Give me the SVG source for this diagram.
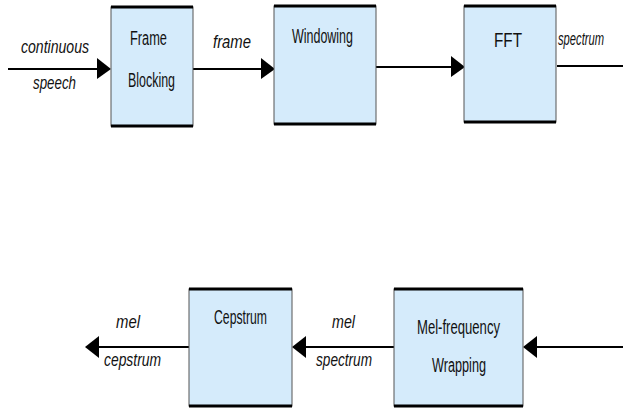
<svg xmlns="http://www.w3.org/2000/svg" width="623" height="408" viewBox="0 0 623 408">
<defs>
<style>
.box{fill:#d5ebfb;stroke:#555;stroke-width:1}
.edge{stroke:#000;stroke-width:3}
.ln{stroke:#000;stroke-width:2;fill:none}
.head{fill:#000}
text{font-family:"Liberation Sans",Arial,sans-serif;font-size:20px;fill:#111}
.lbl{font-style:italic;font-size:19px}
</style>
</defs>
<rect width="623" height="408" fill="#fff"/>
<g id="connectors">
<line class="ln" x1="8" y1="69" x2="100" y2="69"/>
<polygon class="head" points="97,58 111,69 97,79"/>
<line class="ln" x1="193" y1="69" x2="264" y2="69"/>
<polygon class="head" points="261,58 275,69 261,79"/>
<line class="ln" x1="376" y1="67" x2="454" y2="67"/>
<polygon class="head" points="451,56 465,67 451,77"/>
<line class="ln" x1="557" y1="66" x2="623" y2="66"/>
<line class="ln" x1="96" y1="347" x2="189" y2="347"/>
<polygon class="head" points="85,347 99,336 99,358"/>
<line class="ln" x1="303" y1="347" x2="394" y2="347"/>
<polygon class="head" points="292,347 306,336 306,358"/>
<line class="ln" x1="534" y1="347" x2="623" y2="347"/>
<polygon class="head" points="523,347 537,336 537,358"/>
<text class="lbl" x="21" y="53" textLength="68" lengthAdjust="spacingAndGlyphs">continuous</text>
<text class="lbl" x="33" y="89" textLength="43" lengthAdjust="spacingAndGlyphs">speech</text>
<text class="lbl" x="213" y="48" textLength="38" lengthAdjust="spacingAndGlyphs">frame</text>
<text class="lbl" x="558" y="45" textLength="46" lengthAdjust="spacingAndGlyphs">spectrum</text>
<text class="lbl" x="116" y="328" textLength="24" lengthAdjust="spacingAndGlyphs">mel</text>
<text class="lbl" x="104" y="366" textLength="57" lengthAdjust="spacingAndGlyphs">cepstrum</text>
<text class="lbl" x="332" y="328" textLength="23" lengthAdjust="spacingAndGlyphs">mel</text>
<text class="lbl" x="316" y="366" textLength="56" lengthAdjust="spacingAndGlyphs">spectrum</text>
</g>
<g id="frame-blocking">
<rect class="box" x="111" y="7" width="82" height="119"/>
<line class="edge" x1="111" y1="7" x2="193" y2="7"/>
<line class="edge" x1="111" y1="126" x2="193" y2="126"/>
<text x="130" y="45" textLength="37" lengthAdjust="spacingAndGlyphs">Frame</text>
<text x="128" y="87" textLength="47" lengthAdjust="spacingAndGlyphs">Blocking</text>
</g>
<g id="windowing">
<rect class="box" x="274" y="6" width="102" height="118"/>
<line class="edge" x1="274" y1="6" x2="376" y2="6"/>
<line class="edge" x1="274" y1="124" x2="376" y2="124"/>
<text x="292" y="43" textLength="61" lengthAdjust="spacingAndGlyphs">Windowing</text>
</g>
<g id="fft">
<rect class="box" x="464" y="6" width="92" height="116"/>
<line class="edge" x1="464" y1="6" x2="556" y2="6"/>
<line class="edge" x1="464" y1="122" x2="556" y2="122"/>
<text x="494" y="47" textLength="28" lengthAdjust="spacingAndGlyphs">FFT</text>
</g>
<g id="cepstrum">
<rect class="box" x="189" y="289" width="103" height="117"/>
<line class="edge" x1="189" y1="289" x2="292" y2="289"/>
<line class="edge" x1="189" y1="406" x2="292" y2="406"/>
<text x="214" y="324" textLength="53" lengthAdjust="spacingAndGlyphs">Cepstrum</text>
</g>
<g id="mel-frequency-wrapping">
<rect class="box" x="394" y="289" width="129" height="117"/>
<line class="edge" x1="394" y1="289" x2="523" y2="289"/>
<line class="edge" x1="394" y1="406" x2="523" y2="406"/>
<text x="417" y="334" textLength="83" lengthAdjust="spacingAndGlyphs">Mel-frequency</text>
<text x="432" y="372" textLength="54" lengthAdjust="spacingAndGlyphs">Wrapping</text>
</g>
</svg>
